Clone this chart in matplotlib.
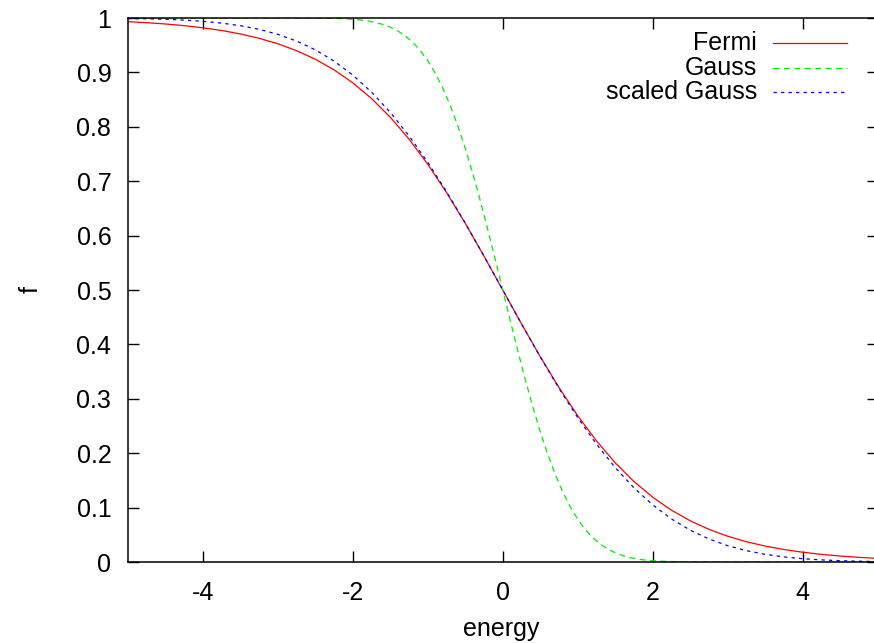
import matplotlib
matplotlib.use("Agg")
import matplotlib.pyplot as plt
from matplotlib.lines import Line2D

# ==========================================
# data (energy -> occupation)
# ==========================================
x_fermi = [-5, -4.75, -4.5, -4.25, -4, -3.75, -3.5, -3.25, -3, -2.75, -2.5,
           -2.25, -2, -1.75, -1.5, -1.25, -1, -0.75, -0.5, -0.25, 0,
           0.25, 0.5, 0.75, 1, 1.25, 1.5, 1.75, 2, 2.25, 2.5,
           2.75, 3, 3.25, 3.5, 3.75, 4, 4.25, 4.5, 4.75, 5]
y_fermi = [0.99331, 0.99142, 0.98901, 0.98594, 0.98201, 0.97702, 0.97069, 0.96267,
           0.95257, 0.93991, 0.92414, 0.90465, 0.88080, 0.85195, 0.81757, 0.77730,
           0.73106, 0.67918, 0.62246, 0.56218, 0.5,
           0.43782, 0.37754, 0.32082, 0.26894, 0.22270, 0.18243, 0.14805, 0.11920,
           0.09535, 0.07586, 0.06009, 0.04743, 0.03733, 0.02931, 0.02298, 0.01799,
           0.01406, 0.01099, 0.00858, 0.00669]

x_gauss = [-5, -3, -2.5, -2.2, -2, -1.9, -1.8, -1.7, -1.6, -1.5, -1.4, -1.3, -1.2,
           -1.1, -1, -0.9, -0.8, -0.7, -0.6, -0.5, -0.4, -0.3, -0.2, -0.1, 0,
           0.1, 0.2, 0.3, 0.4, 0.5, 0.6, 0.7, 0.8, 0.9, 1, 1.1, 1.2,
           1.3, 1.4, 1.5, 1.6, 1.7, 1.8, 1.9, 2, 2.2, 2.5, 3, 5]
y_gauss = [1.0, 0.99999, 0.99980, 0.99907, 0.99766, 0.99639, 0.99455, 0.99189,
           0.98817, 0.98305, 0.97614, 0.96700, 0.95516, 0.94010, 0.92135, 0.89845,
           0.87105, 0.83890, 0.80193, 0.76025, 0.71420, 0.66431, 0.61135, 0.55623, 0.5,
           0.44377, 0.38865, 0.33569, 0.28580, 0.23975, 0.19807, 0.16110, 0.12895,
           0.10155, 0.07865, 0.05990, 0.04484, 0.03300, 0.02386, 0.01695, 0.01183,
           0.00811, 0.00545, 0.00361, 0.00234, 0.00093, 0.00020, 0.00001, 0.0]

x_scaled = x_fermi
y_scaled = [0.99914, 0.99854, 0.99760, 0.99614, 0.99390, 0.99062, 0.98585, 0.97915,
            0.96995, 0.95758, 0.94141, 0.92072, 0.89496, 0.86361, 0.82639, 0.78328,
            0.73456, 0.68082, 0.62299, 0.56225, 0.5,
            0.43775, 0.37701, 0.31918, 0.26544, 0.21672, 0.17361, 0.13639, 0.10504,
            0.07928, 0.05859, 0.04242, 0.03005, 0.02085, 0.01415, 0.00938, 0.00610,
            0.00386, 0.00240, 0.00146, 0.00086]

series = [
    ("Fermi", x_fermi, y_fermi, "#ff0000", "-"),
    ("Gauss", x_gauss, y_gauss, "#00ee00", (0, (4.3, 3.2))),
    ("scaled Gauss", x_scaled, y_scaled, "#0000ff", (0, (2.4, 3.0))),
]

x_ticks = [-4, -2, 0, 2, 4]
y_ticks = [0, 0.1, 0.2, 0.3, 0.4, 0.5, 0.6, 0.7, 0.8, 0.9, 1]
y_tick_labels = ["0", "0.1", "0.2", "0.3", "0.4", "0.5", "0.6", "0.7", "0.8", "0.9", "1"]

# ==========================================
# figure
# ==========================================
plt.rcParams["font.family"] = ["Liberation Sans", "DejaVu Sans"]
plt.rcParams["font.size"] = 18
plt.rcParams["lines.scale_dashes"] = False

W, H = 874, 643
fig = plt.figure(figsize=(W / 100, H / 100), dpi=100)
# plot box in pixels: left 128, top 18, bottom 562, right edge runs just past the image
ax = fig.add_axes([128 / W, (H - 562) / H, 749.5 / W, 544 / H])

for label, xs, ys, color, ls in series:
    ax.plot(xs, ys, color=color, linestyle=ls, linewidth=0.9)

ax.set_xlim(-5, 5)
ax.set_ylim(0, 1)
ax.set_xticks(x_ticks)
ax.set_xticklabels([str(t) for t in x_ticks])
ax.set_yticks(y_ticks)
ax.set_yticklabels(y_tick_labels)

ax.tick_params(direction="in", length=8, width=1.0, top=True, right=True)
ax.tick_params(axis="x", pad=14)
ax.tick_params(axis="y", pad=12)
for sp in ax.spines.values():
    sp.set_linewidth(1.1)

fig.text(501 / W, 1 - 617 / H, "energy", ha="center", va="top")
fig.text(31 / W, 1 - 290 / H, "f", ha="center", va="center", rotation=90)

# gnuplot-like key: right aligned text, sample line to the right
key_rows = [43, 68, 92]
for (label, xs, ys, color, ls), yp in zip(series, key_rows):
    yf = 1 - yp / H
    fig.text(757 / W, yf, label, ha="right", va="center")
    fig.add_artist(Line2D([773 / W, 847 / W], [yf, yf], transform=fig.transFigure,
                          color=color, linestyle=ls, linewidth=0.9))

fig.savefig("out.png", dpi=100)
